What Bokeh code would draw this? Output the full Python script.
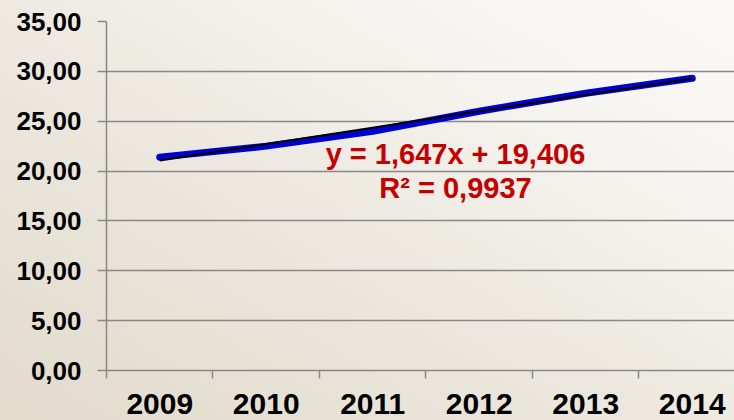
from bokeh.plotting import figure
from bokeh.models import FixedTicker, Range1d, Label, ColumnDataSource
from bokeh.embed import file_html
from bokeh.resources import INLINE

# ---- data ----
years = ["2009", "2010", "2011", "2012", "2013", "2014"]
values = [21.4, 22.5, 24.0, 26.0, 27.8, 29.3]
y_ticks = [0, 5, 10, 15, 20, 25, 30, 35]
y_tick_labels = ["0,00", "5,00", "10,00", "15,00", "20,00", "25,00", "30,00", "35,00"]
trend_slope = 1.647
trend_intercept = 19.406
equation_text = "y = 1,647x + 19,406"
r2_text = "R² = 0,9937"

xs = list(range(1, len(years) + 1))
trend_x = [xs[0], xs[-1]]
trend_y = [trend_slope * x + trend_intercept for x in trend_x]

FONT = "Liberation Sans"
GRID = "#888888"

p = figure(width=734, height=420, output_backend="svg", toolbar_location=None,
           x_range=Range1d(0.5, 6.397), y_range=Range1d(0, 35))
p.min_border_left = 106
p.min_border_right = 0
p.min_border_top = 21
p.min_border_bottom = 50
p.outline_line_color = None
p.background_fill_alpha = 0
p.border_fill_alpha = 0
p.styles = {"background-image":
            "linear-gradient(to top right, #e2dbcc 0%, #ece8df 45%, #f6f4f0 75%, #faf9f7 100%)"}

# grid
p.xgrid.grid_line_color = None
p.ygrid.grid_line_color = GRID
p.ygrid.grid_line_width = 1.5
p.ygrid.ticker = FixedTicker(ticks=y_ticks)

# y axis
p.yaxis.ticker = FixedTicker(ticks=y_ticks)
p.yaxis.major_label_overrides = {t: l for t, l in zip(y_ticks, y_tick_labels)}
p.yaxis.axis_line_color = GRID
p.yaxis.axis_line_width = 1.5
p.yaxis.major_tick_line_color = GRID
p.yaxis.major_tick_line_width = 1.5
p.yaxis.major_tick_out = 9
p.yaxis.major_tick_in = 0
p.yaxis.minor_tick_line_color = None
p.yaxis.major_label_standoff = 16
p.yaxis.major_label_text_font = FONT
p.yaxis.major_label_text_font_style = "bold"
p.yaxis.major_label_text_font_size = "26px"
p.yaxis.major_label_text_color = "black"

# x axis: labels at centres, small ticks at category boundaries
boundaries = [x - 0.5 for x in xs] + [xs[-1] + 0.5]
p.xaxis.ticker = FixedTicker(ticks=xs, minor_ticks=boundaries)
p.xaxis.major_label_overrides = {x: y for x, y in zip(xs, years)}
p.xaxis.axis_line_color = GRID
p.xaxis.axis_line_width = 1.5
p.xaxis.major_tick_out = 0
p.xaxis.major_tick_in = 0
p.xaxis.major_tick_line_color = None
p.xaxis.minor_tick_line_color = GRID
p.xaxis.minor_tick_line_width = 1.5
p.xaxis.minor_tick_out = 8
p.xaxis.minor_tick_in = 0
p.xaxis.major_label_standoff = 15
p.xaxis.major_label_text_font = FONT
p.xaxis.major_label_text_font_style = "bold"
p.xaxis.major_label_text_font_size = "30px"
p.xaxis.major_label_text_color = "black"

# series
src = ColumnDataSource(dict(x=xs, y=values))
p.line("x", "y", source=src, line_color="#0000d0", line_width=7,
       line_cap="round", line_join="round")
p.line(trend_x, trend_y, line_color="black", line_width=2)

# equation labels
p.add_layout(Label(x=3.777, y=21.75, text=equation_text, text_align="center",
                   text_baseline="middle", text_font=FONT, text_font_style="bold",
                   text_font_size="29px", text_color="#c40000"))
p.add_layout(Label(x=3.777, y=18.35, text=r2_text, text_align="center",
                   text_baseline="middle", text_font=FONT, text_font_style="bold",
                   text_font_size="29px", text_color="#c40000"))

open("out.html", "w").write(file_html(p, INLINE))
